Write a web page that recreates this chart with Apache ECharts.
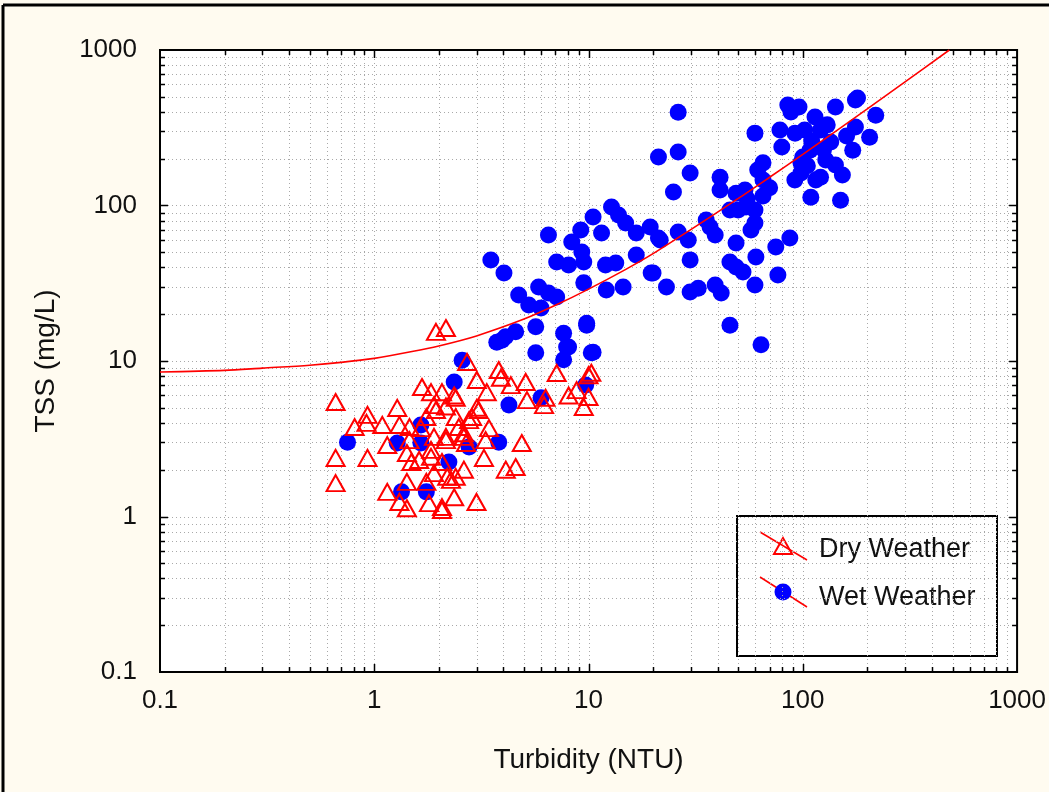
<!DOCTYPE html>
<html>
<head>
<meta charset="utf-8">
<script src="https://cdn.jsdelivr.net/npm/echarts@6/dist/echarts.min.js"></script>
<style>
html,body{margin:0;padding:0;background:#fffbf0;}
#chart{width:1049px;height:792px;}
</style>
</head>
<body>
<div id="chart"></div>
<script>
// ---------- data ----------
const xTickLabels = ['0.1', '1', '10', '100', '1000'];
const yTickLabels = ['0.1', '1', '10', '100', '1000'];
const xTitle = 'Turbidity (NTU)';
const yTitle = 'TSS (mg/L)';
const seriesNames = ['Dry Weather', 'Wet Weather'];

// Dry weather samples [turbidity, TSS]
const dryWeather = [
  [0.66,5.45],[0.66,2.38],[0.66,1.64],[0.93,2.38],[0.93,4.5],[0.81,3.76],[1.09,3.88],[1.28,4.99],
  [1.31,3.88],[1.15,2.88],[1.67,6.8],[1.84,6.3],[2.07,6.3],[2.36,6.0],[1.94,4.84],[1.75,4.36],
  [1.46,3.76],[1.65,3.7],[1.9,3.25],[2.16,3.25],[2.4,4.36],[2.48,3.76],[1.84,2.68],[1.42,2.56],
  [1.49,2.24],[1.62,2.31],[2.07,2.24],[2.19,1.8],[1.9,1.9],[2.4,1.8],[2.62,2.0],[1.75,1.67],
  [1.42,1.67],[1.15,1.44],[1.31,1.24],[1.42,1.13],[1.8,1.22],[2.07,1.1],[2.36,1.33],[2.68,2.97],
  [1.94,15.4],[2.16,16.3],[2.71,9.86],[3.81,8.75],[3.01,7.55],[3.35,6.3],[4.34,7.0],[5.09,7.33],
  [3.9,7.8],[5.16,5.6],[6.3,5.8],[6.2,5.2],[7.1,8.37],[8.07,6.0],[8.8,6.5],[10.0,8.1],[10.3,8.4],
  [10.0,5.87],[9.5,5.06],[3.01,5.0],[2.77,4.17],[3.43,3.7],[2.62,3.25],[2.16,3.1],[3.31,3.1],
  [4.88,2.97],[3.25,2.38],[4.11,2.0],[4.57,2.08],[2.28,1.72],[3.0,1.24],[2.07,1.15],[0.92,4.0],
  [1.9,5.2],[2.16,5.1],[2.4,5.8],[2.86,4.36],[3.07,4.84],[2.62,3.43],[1.84,2.42],[1.46,3.1]
];

// Wet weather samples [turbidity, TSS]
const wetWeather = [
  [0.75,3.0],[1.28,2.97],[1.65,2.97],[1.65,3.88],[2.23,2.24],[2.36,7.33],[2.57,10.1],[1.34,1.44],
  [1.75,1.44],[4.25,5.21],[3.81,3.0],[2.77,2.8],[6.0,5.8],[9.7,7.0],[7.65,15.1],[8.07,12.3],
  [7.65,10.2],[9.8,17.5],[10.3,11.3],[5.67,11.3],[5.67,16.6],[4.1,14.3],[4.57,15.4],[3.73,13.2],
  [3.5,44.6],[4.03,36.8],[4.72,26.6],[5.26,22.9],[6.0,21.9],[5.85,29.9],[6.5,27.4],[7.1,25.8],
  [3.94,13.6],[7.9,12.3],[9.8,17.0],[10.5,11.4],[6.5,64.6],[7.1,43.3],[8.07,41.4],[8.35,58.2],
  [9.2,69.6],[9.3,50.2],[9.5,43.3],[9.5,31.8],[10.5,84.3],[11.5,66.5],[12.8,97.8],[13.8,86.8],
  [14.9,77.2],[12.0,41.4],[13.4,42.7],[12.1,28.6],[14.5,29.9],[16.7,48.1],[16.7,66.5],[19.4,72.7],
  [21.2,61.8],[19.6,36.8],[23.1,29.9],[26.2,398],[21.2,205],[26.2,221],[29.8,162],[24.9,122],
  [41.1,152],[41.1,126],[59.8,292],[85.1,443],[96,430],[78.2,306],[79.8,238],[65.2,188],
  [61.6,169],[65.2,146],[53.7,126],[48.8,120],[65.2,115],[91.8,146],[98,188],[102,306],
  [100,205],[45.7,93.5],[49.9,93.5],[54.3,97.8],[59.8,93.5],[59.8,77.2],[57.3,69.6],[36.9,72.7],
  [39.0,64.6],[35.4,80.7],[48.8,57.4],[21.6,60],[26.2,67.6],[29.2,60],[29.8,44.7],[20,36.8],
  [29.8,27.8],[32.5,29.4],[39,30.8],[41.6,27.4],[45.7,43.3],[48.8,40.2],[52.6,37.3],[60.4,46.7],
  [59.8,30.8],[76.5,35.7],[74.8,54],[87,61.8],[45.7,17.0],[63.8,12.7],[176,477],[142,430],
  [180,491],[219,380],[205,275],[176,320],[135,256],[109,113],[150,108],[114,371],[121,306],
  [98,162],[121,152],[92,292],[128,196],[142,182],[115,146],[153,157],[171,227],[108,227],
  [110,260],[130,330],[160,280],[105,180],[125,230],[88,400],[55,110],[70,130]
];

// Fitted curve, points
const fitCurve = [
  [0.1,8.5],[0.2,8.7],[0.3,9.0],[0.5,9.4],[0.7,9.8],[1,10.4],[1.5,11.5],[2,12.5],[3,14.5],
  [5,18.6],[7,22.8],[10,29],[15,39],[20,49],[30,70],[50,111],[70,152],[100,213],[150,316],
  [200,418],[300,624],[483,1000]
];

// ---------- axis structure ----------
const X_MIN = 0.1, X_MAX = 1000, Y_MIN = 0.1, Y_MAX = 1000;
function logTicks(min, max) {
  const out = [];
  for (let e = Math.round(Math.log10(min)); e < Math.round(Math.log10(max)); e++) {
    const base = Math.pow(10, e);
    for (let m = 1; m <= 9; m++) out.push([+(m * base).toPrecision(3), m === 1 ? 1 : 0]);
  }
  out.push([max, 1]);
  return out;
}
const xTicks = logTicks(X_MIN, X_MAX).map(t => [t[0], 1, t[1]]);
const yTicks = logTicks(Y_MIN, Y_MAX).map(t => [1, t[0], t[1]]);

const GRID_COLOR = '#a9a9a9';
const FONT = 'Liberation Sans, Arial, sans-serif';

function gridRenderer(isX) {
  return function (params, api) {
    const v = isX ? api.value(0) : api.value(1);
    const major = api.value(2) === 1;
    const len = major ? 8 : 5;
    const children = [];
    let a, b;
    if (isX) { a = api.coord([v, Y_MIN]); b = api.coord([v, Y_MAX]); }
    else { a = api.coord([X_MIN, v]); b = api.coord([X_MAX, v]); }
    const edge = (v <= (isX ? X_MIN : Y_MIN) * 1.0001) || (v >= (isX ? X_MAX : Y_MAX) * 0.9999);
    if (edge) return { type: 'group', children: [] };
    if (isX) {
      const x = Math.round(a[0]) + 0.5;
      children.push({ type: 'line', shape: { x1: x, y1: a[1], x2: x, y2: b[1] },
        style: { stroke: GRID_COLOR, lineWidth: 1, lineDash: [1, 3] } });
      children.push({ type: 'line', shape: { x1: x, y1: a[1], x2: x, y2: a[1] - len },
        style: { stroke: '#000', lineWidth: 1.5 } });
      children.push({ type: 'line', shape: { x1: x, y1: b[1], x2: x, y2: b[1] + len },
        style: { stroke: '#000', lineWidth: 1.5 } });
    } else {
      const y = Math.round(a[1]) + 0.5;
      children.push({ type: 'line', shape: { x1: a[0], y1: y, x2: b[0], y2: y },
        style: { stroke: GRID_COLOR, lineWidth: 1, lineDash: [1, 3] } });
      children.push({ type: 'line', shape: { x1: a[0], y1: y, x2: a[0] + len, y2: y },
        style: { stroke: '#000', lineWidth: 1.5 } });
      children.push({ type: 'line', shape: { x1: b[0], y1: y, x2: b[0] - len, y2: y },
        style: { stroke: '#000', lineWidth: 1.5 } });
    }
    return { type: 'group', children: children };
  };
}

function labelFrom(arr) {
  return function (v) {
    const i = Math.round(Math.log10(v)) + 1;
    return arr[i] !== undefined ? arr[i] : '';
  };
}

const chart = echarts.init(document.getElementById('chart'), null, { renderer: 'canvas' });

const legendX = 737, legendY = 516;
chart.setOption({
  animation: false,
  backgroundColor: '#fffbf0',
  grid: {
    left: 160, right: 28, top: 50, bottom: 120,
    show: true, backgroundColor: '#ffffff', borderColor: '#000', borderWidth: 2
  },
  xAxis: {
    type: 'log', logBase: 10, min: X_MIN, max: X_MAX,
    name: xTitle, nameLocation: 'middle', nameGap: 74,
    nameTextStyle: { fontFamily: FONT, fontSize: 28, color: '#111' },
    axisLine: { show: false }, axisTick: { show: false }, splitLine: { show: false },
    axisLabel: { fontFamily: FONT, fontSize: 26, color: '#111', margin: 16, formatter: labelFrom(xTickLabels) }
  },
  yAxis: {
    type: 'log', logBase: 10, min: Y_MIN, max: Y_MAX,
    name: yTitle, nameLocation: 'middle', nameGap: 100, nameRotate: 90,
    nameTextStyle: { fontFamily: FONT, fontSize: 28, color: '#111' },
    axisLine: { show: false }, axisTick: { show: false }, splitLine: { show: false },
    axisLabel: { fontFamily: FONT, fontSize: 26, color: '#111', margin: 23, formatter: labelFrom(yTickLabels) }
  },
  series: [
    { type: 'custom', name: 'xgrid', silent: true, z: 1, clip: false,
      renderItem: gridRenderer(true), encode: { x: 0, y: 1 }, data: xTicks },
    { type: 'custom', name: 'ygrid', silent: true, z: 1, clip: false,
      renderItem: gridRenderer(false), encode: { x: 0, y: 1 }, data: yTicks },
    { type: 'scatter', name: seriesNames[1], z: 3, symbol: 'circle', symbolSize: 17,
      itemStyle: { color: '#0000ff', opacity: 1 }, data: wetWeather },
    { type: 'scatter', name: seriesNames[0], z: 4, symbol: 'triangle', symbolSize: [18, 16],
      itemStyle: { color: 'rgba(255,255,255,0)', borderColor: '#ff0000', borderWidth: 2, opacity: 1 }, data: dryWeather },
    { type: 'line', name: 'fit', z: 5, showSymbol: false, smooth: 0.3, silent: true,
      lineStyle: { color: '#ff0000', width: 1.6 }, data: fitCurve }
  ],
  graphic: [
    // outer frame (left + top edges)
    { type: 'line', shape: { x1: 3, y1: 5, x2: 3, y2: 792 }, style: { stroke: '#000', lineWidth: 3 }, z: 10 },
    { type: 'line', shape: { x1: 3, y1: 5, x2: 1049, y2: 5 }, style: { stroke: '#000', lineWidth: 3 }, z: 10 },
    // legend
    { type: 'group', z: 20, children: [
      { type: 'rect', shape: { x: legendX, y: legendY, width: 260, height: 140 },
        style: { fill: '#fff', stroke: '#000', lineWidth: 2 } },
      { type: 'line', shape: { x1: 760, y1: 532, x2: 807, y2: 560 }, style: { stroke: '#ff0000', lineWidth: 1.5 } },
      { type: 'polygon', shape: { points: [[783, 538], [774, 554], [792, 554]] },
        style: { fill: 'rgba(255,255,255,0)', stroke: '#ff0000', lineWidth: 2 } },
      { type: 'line', shape: { x1: 760, y1: 577, x2: 807, y2: 607 }, style: { stroke: '#ff0000', lineWidth: 1.5 } },
      { type: 'circle', shape: { cx: 783, cy: 592, r: 8.5 }, style: { fill: '#0000ff' } },
      { type: 'text', x: 819, y: 550, style: { text: seriesNames[0], font: '27px ' + FONT, fill: '#111', textVerticalAlign: 'middle' } },
      { type: 'text', x: 819, y: 598, style: { text: seriesNames[1], font: '27px ' + FONT, fill: '#111', textVerticalAlign: 'middle' } }
    ]}
  ]
});
</script>
</body>
</html>
